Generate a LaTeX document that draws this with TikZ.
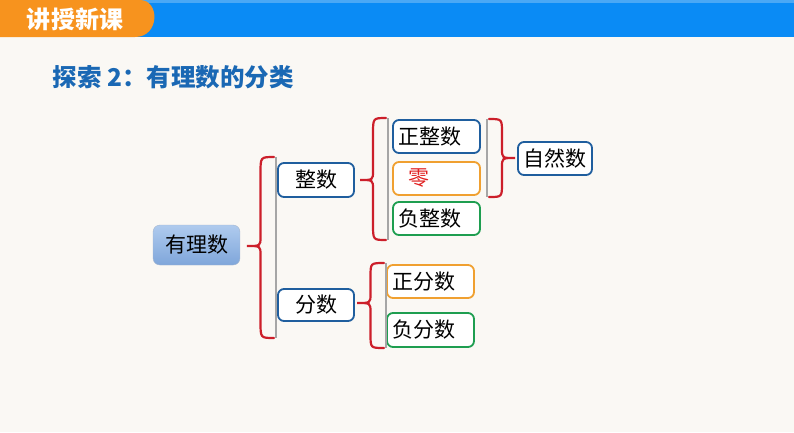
\documentclass[tikz,border=0pt]{standalone}
\usepackage{fontspec}
\setmainfont{Noto Sans CJK SC}
\definecolor{bgc}{HTML}{FAF8F4}
\definecolor{barblue}{HTML}{0A8BF5}
\definecolor{barlight}{HTML}{4AA8F5}
\definecolor{tabor}{HTML}{F7931E}
\definecolor{titleblue}{HTML}{1A68B4}
\definecolor{boxblue}{HTML}{1F5E9E}
\definecolor{boxor}{HTML}{F0A030}
\definecolor{boxgr}{HTML}{1E9E50}
\definecolor{bred}{HTML}{CC1F2A}
\definecolor{zred}{HTML}{E02020}
\definecolor{rtop}{HTML}{AFCBEE}
\definecolor{rbot}{HTML}{7FA6DA}
% #1 back x, #2 top y, #3 bottom y, #4 tip x, #5 tip y, #6 end radius
\newcommand{\mybrc}[6]{%
  \draw[bracestyle] (#1,#2) .. controls ({(#1+#4)/2},#2) .. ({(#1+#4)/2},{#2+#6})
    -- ({(#1+#4)/2},{#5-9}) .. controls ({(#1+#4)/2},#5) .. (#4,#5)
    .. controls ({(#1+#4)/2},#5) .. ({(#1+#4)/2},{#5+9})
    -- ({(#1+#4)/2},{#3-#6}) .. controls ({(#1+#4)/2},#3) .. (#1,#3);}
\tikzset{
  bracestyle/.style={draw=bred, line width=2.2pt, line cap=round},
  grayline/.style={draw=black!35, line width=2.6pt},
  cbox/.style={rounded corners=6pt, line width=1.8pt, fill=white, font=\fontsize{21}{21}\selectfont, inner sep=0pt},
  lbox/.style={cbox, text width=77pt, align=left, inner xsep=5pt, minimum width=87pt, minimum height=33pt},
}
\begin{document}
\begin{tikzpicture}[x=1pt,y=-1pt]
\fill[bgc] (0,0) rectangle (794,432);
\useasboundingbox (0,0) rectangle (794,432);
\fill[barblue] (0,0) rectangle (794,37);
\fill[barlight] (0,0) rectangle (794,3);
\fill[tabor] (0,0) -- (140,0) .. controls (160,0) and (160,37) .. (135,37) -- (0,37) -- cycle;
\node[text=white, font=\bfseries\fontsize{24}{24}\selectfont] (hdr) at (75,19) {讲授新课};
\node[anchor=west, text=titleblue, font=\bfseries\fontsize{24.5}{24.5}\selectfont] (title) at (49,77) {探索 2：有理数的分类};

% nodes
\node[rounded corners=7pt, top color=rtop, bottom color=rbot, draw=rbot!80!black!60, line width=0.4pt,
  minimum width=87pt, minimum height=40pt, font=\fontsize{21}{21}\selectfont] (r) at (196.5,245) {有理数};
\node[cbox, draw=boxblue, minimum width=76pt, minimum height=34pt] (zs) at (316,180) {整数};
\node[cbox, draw=boxblue, minimum width=76pt, minimum height=32pt] (fs) at (316,305) {分数};
\node[lbox, draw=boxblue] (pz) at (436.5,136.5) {正整数};
\node[lbox, draw=boxor] (zero) at (436.5,178.5) {\hspace{10pt}\textcolor{zred}{零}};
\node[lbox, draw=boxgr] (nz) at (436.5,218.5) {负整数};
\node[cbox, draw=boxblue, minimum width=74pt, minimum height=33pt] (nat) at (555,158.5) {自然数};
\node[lbox, draw=boxor] (pf) at (430.5,281.5) {正分数};
\node[lbox, draw=boxgr, minimum height=34pt] (nf) at (430.5,330) {负分数};

% braces
\draw[grayline] (276,157) -- (276,338);
\mybrc{274}{157}{338}{247}{246}{16}
\draw[grayline] (388,118) -- (388,240);
\mybrc{386}{118}{240}{360}{180}{16}
\draw[grayline] (386,263) -- (386,348);
\mybrc{384}{263}{348}{357}{303}{14}
\draw[grayline] (487,119) -- (487,197);
\mybrc{489}{119}{197}{515}{158}{14}
\end{tikzpicture}
\end{document}
